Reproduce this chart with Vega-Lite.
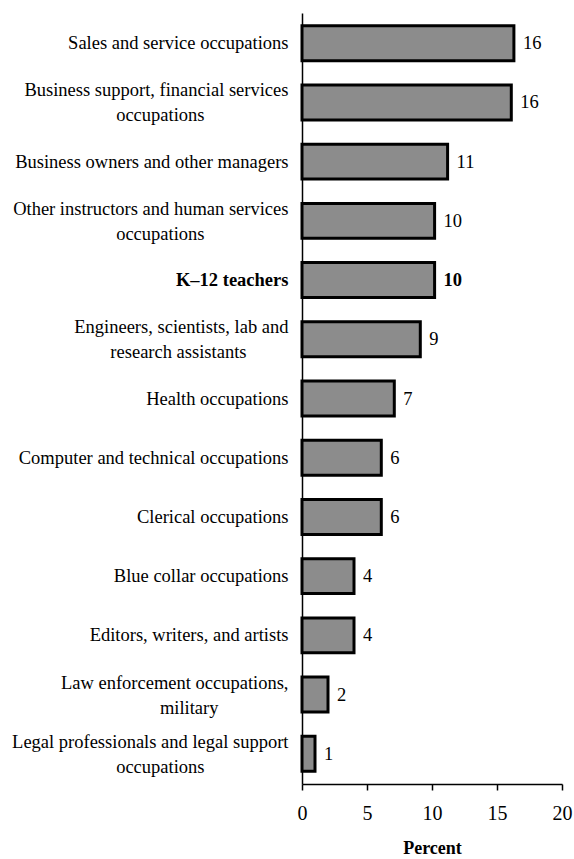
{
  "$schema": "https://vega.github.io/schema/vega-lite/v6.json",
  "autosize": "none",
  "width": 260,
  "height": 771,
  "padding": {"left": 302, "top": 13, "right": 12, "bottom": 75},
  "background": "white",
  "config": {
    "view": {"stroke": null},
    "font": "Liberation Serif",
    "text": {"font": "Liberation Serif"}
  },
  "data": {
    "values": [
      {"occ": "Sales and service occupations", "pct": 16.3},
      {"occ": "Business support, financial services|occupations", "pct": 16.1},
      {"occ": "Business owners and other managers", "pct": 11.2},
      {"occ": "Other instructors and human services|occupations", "pct": 10.2},
      {"occ": "K–12 teachers", "pct": 10.2},
      {"occ": "Engineers, scientists, lab and|research assistants", "pct": 9.1},
      {"occ": "Health occupations", "pct": 7.1},
      {"occ": "Computer and technical occupations", "pct": 6.1},
      {"occ": "Clerical occupations", "pct": 6.1},
      {"occ": "Blue collar occupations", "pct": 4.0},
      {"occ": "Editors, writers, and artists", "pct": 4.0},
      {"occ": "Law enforcement occupations,|military", "pct": 2.0},
      {"occ": "Legal professionals and legal support|occupations", "pct": 1.0}
    ]
  },
  "encoding": {
    "y": {
      "field": "occ",
      "type": "nominal",
      "sort": null,
      "scale": {"paddingInner": 0.41, "paddingOuter": 0.215},
      "axis": {
        "title": null,
        "ticks": false,
        "domain": true,
        "domainColor": "black",
        "domainWidth": 1.5,
        "labelFont": "Liberation Serif",
        "labelFontSize": 18.5,
        "labelColor": "black",
        "labelPadding": 14,
        "labelLimit": 400,
        "labelLineHeight": 25,
        "labelOffset": {"condition": {"test": "length(split(datum.value, '|')) > 1", "value": -12}, "value": 0},
        "labelFontWeight": {"condition": {"test": "datum.value == 'K\u201312 teachers'", "value": "bold"}, "value": "normal"},
        "labelExpr": "length(split(datum.value,'|')) > 1 ? [split(datum.value,'|')[0], split(datum.value,'|')[1] + pad('', round((length(split(datum.value,'|')[0]) - length(split(datum.value,'|')[1])) * 0.24), '\u2800')] : datum.value"
      }
    }
  },
  "layer": [
    {
      "mark": {"type": "bar", "fill": "#8c8c8c", "stroke": "black", "strokeWidth": 3},
      "encoding": {
        "x": {
          "field": "pct",
          "type": "quantitative",
          "scale": {"domain": [0, 20], "nice": false},
          "axis": {
            "title": "Percent",
            "titleFont": "Liberation Serif",
            "titleFontSize": 18,
            "titleFontWeight": "bold",
            "titleColor": "black",
            "titlePadding": 16,
            "values": [0, 5, 10, 15, 20],
            "grid": false,
            "domainColor": "black",
            "domainWidth": 1.5,
            "tickColor": "black",
            "tickWidth": 1.5,
            "tickSize": 6,
            "labelFont": "Liberation Serif",
            "labelFontSize": 20,
            "labelColor": "black",
            "labelPadding": 13,
            "labelFlush": false
          }
        }
      }
    },
    {
      "transform": [{"filter": "datum.occ != 'K\u201312 teachers'"}],
      "mark": {"type": "text", "align": "left", "baseline": "middle", "dx": 9, "fontSize": 18.5, "font": "Liberation Serif", "color": "black"},
      "encoding": {
        "x": {"field": "pct", "type": "quantitative"},
        "text": {"field": "pct", "type": "quantitative", "format": ".0f"}
      }
    },
    {
      "transform": [{"filter": "datum.occ == 'K\u201312 teachers'"}],
      "mark": {"type": "text", "align": "left", "baseline": "middle", "dx": 9, "fontSize": 18.5, "fontWeight": "bold", "font": "Liberation Serif", "color": "black"},
      "encoding": {
        "x": {"field": "pct", "type": "quantitative"},
        "text": {"field": "pct", "type": "quantitative", "format": ".0f"}
      }
    }
  ]
}
